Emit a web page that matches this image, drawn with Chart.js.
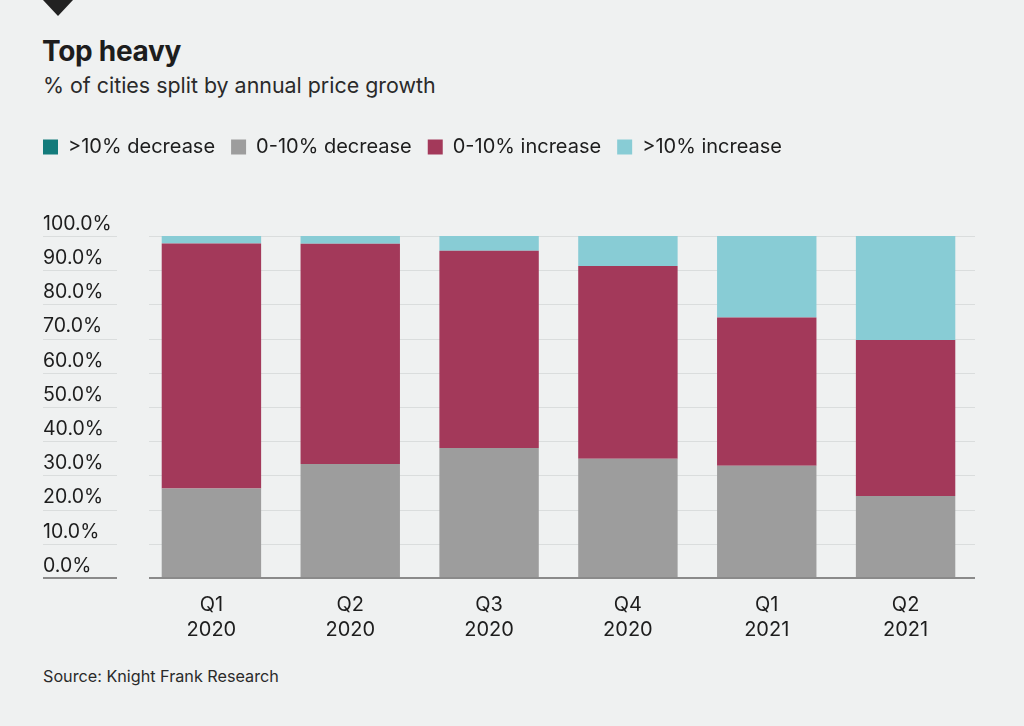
<!DOCTYPE html>
<html>
<head>
<meta charset="utf-8">
<script src="https://cdn.jsdelivr.net/npm/chart.js@4/dist/chart.umd.min.js"></script>
<style>
  body { margin: 0; background: #eff1f1; font-family: Inter, "Noto Sans", sans-serif; color: #1d1d1d; }
  #page { position: relative; width: 1024px; height: 726px; overflow: hidden; }
  #tri { position: absolute; left: 43px; top: 0; width: 0; height: 0;
    border-left: 15px solid transparent; border-right: 15px solid transparent; border-top: 16px solid #222; }
  #title { position: absolute; left: 42px; top: 34px; font-size: 28px; font-weight: 700; line-height: 34px; letter-spacing: -0.3px; }
  #sub { position: absolute; left: 43px; top: 72px; font-size: 21.4px; line-height: 26px; color: #2a2a2a; }
  #wrap { position: absolute; left: 0; top: 120px; width: 1024px; height: 540px; }
  #source { position: absolute; left: 43px; top: 666px; font-size: 16.2px; line-height: 20px; color: #2a2a2a; }
</style>
</head>
<body>
<div id="page">
  <div id="tri"></div>
  <div id="title">Top heavy</div>
  <div id="sub">% of cities split by annual price growth</div>
  <div id="wrap"><canvas id="chart" width="1024" height="540"></canvas></div>
  <div id="source">Source: Knight Frank Research</div>
</div>
<script>
"use strict";

const quarters = [['Q1', '2020'], ['Q2', '2020'], ['Q3', '2020'], ['Q4', '2020'], ['Q1', '2021'], ['Q2', '2021']];
const seriesNames = ['>10% decrease', '0-10% decrease', '0-10% increase', '>10% increase'];
const bigDecrease = [0, 0, 0, 0, 0, 0];
const smallDecrease = [26.2, 33.3, 38.0, 34.9, 32.8, 24.0];
const smallIncrease = [71.6, 64.4, 57.7, 56.3, 43.4, 45.6];
const bigIncrease = [2.2, 2.3, 4.3, 8.8, 23.8, 30.4];
const yTicks = [0, 10, 20, 30, 40, 50, 60, 70, 80, 90, 100];

const colors = ['#137b7b', '#9d9d9d', '#a3395a', '#88ccd5'];
const font = 'Inter, "Noto Sans", sans-serif';
const legendPad = 16;

// grid lines: short piece under the tick labels, then the plot part
const gridLines = {
  id: 'gridLines',
  beforeDatasetsDraw(chart) {
    const ctx = chart.ctx;
    const y = chart.scales.y;
    ctx.save();
    ctx.strokeStyle = '#dadddd';
    ctx.lineWidth = 1;
    yTicks.forEach(v => {
      if (v === 0) return;
      const py = Math.round(y.getPixelForValue(v)) + 0.5;
      ctx.beginPath();
      ctx.moveTo(43, py); ctx.lineTo(117, py);
      ctx.moveTo(149, py); ctx.lineTo(chart.chartArea.right, py);
      ctx.stroke();
    });
    ctx.restore();
  },
  afterDatasetsDraw(chart) {
    const ctx = chart.ctx;
    const py = chart.scales.y.getPixelForValue(0);
    ctx.save();
    ctx.strokeStyle = '#8a8a8a';
    ctx.lineWidth = 2;
    ctx.beginPath();
    ctx.moveTo(43, py); ctx.lineTo(117, py);
    ctx.moveTo(149, py); ctx.lineTo(chart.chartArea.right, py);
    ctx.stroke();
    ctx.restore();
  }
};

// extra room between legend and plot, and legend flush with the left margin
const legendSpacer = {
  id: 'legendSpacer',
  beforeInit(chart) {
    const fit = chart.legend.fit;
    chart.legend.fit = function () {
      fit.bind(this)();
      this.height += 69;
    };
  },
  afterLayout(chart) {
    chart.legend.left -= legendPad;
    chart.legend.right -= legendPad;
  }
};

const datasets = [bigDecrease, smallDecrease, smallIncrease, bigIncrease].map((data, i) => ({
  label: seriesNames[i],
  data: data,
  backgroundColor: colors[i],
  borderWidth: 0,
  barPercentage: 0.716,
  categoryPercentage: 1
}));

new Chart(document.getElementById('chart').getContext('2d'), {
  type: 'bar',
  data: { labels: quarters, datasets: datasets },
  plugins: [gridLines, legendSpacer],
  options: {
    responsive: false,
    animation: false,
    layout: { padding: { left: 43, right: 49, top: 1, bottom: 12 } },
    plugins: {
      tooltip: { enabled: false },
      legend: {
        position: 'top',
        align: 'start',
        labels: {
          boxWidth: 15,
          boxHeight: 15,
          padding: legendPad,
          color: '#1d1d1d',
          font: { family: font, size: 20 }
        }
      }
    },
    scales: {
      x: {
        stacked: true,
        grid: { display: false },
        border: { display: false },
        ticks: {
          color: '#1d1d1d',
          padding: 6,
          maxRotation: 0,
          font: { family: font, size: 20, lineHeight: 1.25 }
        }
      },
      y: {
        stacked: true,
        min: 0,
        max: 100,
        afterFit(scale) { scale.width = 99; },
        afterBuildTicks(scale) { scale.ticks = yTicks.map(v => ({ value: v })); },
        grid: { display: false },
        border: { display: false },
        ticks: {
          crossAlign: 'far',
          labelOffset: -12,
          color: '#1d1d1d',
          font: { family: font, size: 19.5 },
          callback: v => v.toFixed(1) + '%'
        }
      }
    }
  }
});
</script>
</body>
</html>
